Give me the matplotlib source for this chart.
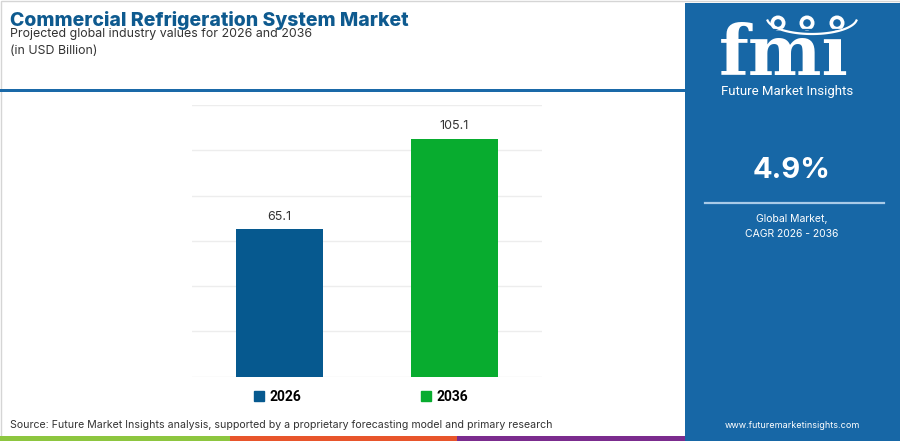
import matplotlib
matplotlib.use('Agg')
import matplotlib.pyplot as plt
import matplotlib.patches as mpatches
import numpy as np

# chart data
years = ['2026', '2036']
values = [65.1, 105.1]
bar_colors = ['#06598F', '#08AC2F']
cagr = '4.9%'

title = 'Commercial Refrigeration System Market'
subtitle = 'Projected global industry values for 2026 and 2036'
unit = '(in USD Billion)'
source = 'Source: Future Market Insights analysis, supported by a proprietary forecasting model and primary research'

W, H = 900, 441
fig = plt.figure(figsize=(W / 100, H / 100), dpi=100)
fig.patch.set_facecolor('white')

# background layer in pixel coordinates
bg = fig.add_axes([0, 0, 1, 1])
bg.set_xlim(0, W)
bg.set_ylim(H, 0)
bg.axis('off')

panel_blue = '#1767A6'
# outer light border
bg.add_patch(mpatches.Rectangle((0.5, 0.5), W - 1, H - 1, fill=False, ec='#D5D5D5', lw=1))
# header underline
bg.add_patch(mpatches.Rectangle((0, 88.5), 686, 3.5, color='#1A69A8', lw=0))
# bottom colour strip
strip_cols = ['#8DC63F', '#E8552B', '#7B2C8E']
strip_x = [0, 230, 457, 686]
for i in range(3):
    bg.add_patch(mpatches.Rectangle((strip_x[i], 435.5), strip_x[i + 1] - strip_x[i], 5, color=strip_cols[i], lw=0))
# right panel
bg.add_patch(mpatches.Rectangle((685, 3), W - 685, H - 3, color=panel_blue, lw=0))

# logo (striped letters + three globes on an arc)
bg.text(784, 75, 'fm\u0131', color='white', fontsize=50, fontweight='bold', family='DejaVu Serif',
        ha='center', va='baseline')
for yy in np.arange(29, 77, 3.4):
    bg.plot([714, 856], [yy, yy], color=panel_blue, lw=0.9)
t = np.linspace(0.05, 0.95, 60) * np.pi
bg.plot(812 - 45 * np.cos(t), 18 + 16 * np.sin(t), color='white', lw=1.6)
for cx in [778, 807, 837]:
    bg.add_patch(mpatches.Circle((cx, 23), 7.5, color='white', lw=0))
    bg.add_patch(mpatches.Circle((cx, 23), 3.8, color=panel_blue, lw=0))
bg.text(787, 91, 'Future Market Insights', color='white', fontsize=9.5, family='Roboto',
        ha='center', va='center')

bg.text(792, 171, cagr, color='white', fontsize=21, fontweight='bold', family='Inter',
        ha='center', va='center')
bg.plot([705, 884], [203, 203], color='#A9CBE8', lw=1.6)
bg.text(792, 219, 'Global Market,', color='white', fontsize=7.5, family='Inter', ha='center', va='center')
bg.text(792, 234, 'CAGR 2026 - 2036', color='white', fontsize=7.5, family='Inter', ha='center', va='center')
bg.text(792, 425, 'www.futuremarketinsights.com', color='white', fontsize=6.5, family='Inter',
        ha='center', va='center')

# header texts
bg.text(10, 20, title, color='#0E5A8F', fontsize=14, fontweight='heavy', family='Inter',
        ha='left', va='center')
bg.text(10, 34, subtitle, color='#333333', fontsize=8.9, family='Inter', ha='left', va='center')
bg.text(10, 51, unit, color='#333333', fontsize=8.9, family='Inter', ha='left', va='center')
bg.text(10, 425, source, color='#333333', fontsize=7.6, family='Inter', ha='left', va='center')

# bar chart
ax = fig.add_axes([192 / W, 1 - 376.7 / H, (542 - 192) / W, (376.7 - 105) / H])
ax.patch.set_alpha(0)
x = np.arange(len(years))
bars = ax.bar(x, values, width=0.5, color=bar_colors, zorder=3)
ax.set_xlim(-0.5, 1.5)
ax.set_ylim(0, 120)
ax.set_yticks(np.arange(0, 121, 20))
ax.grid(axis='y', color='#EDEDED', lw=1, zorder=0)
ax.tick_params(left=False, bottom=False, labelleft=False, labelbottom=False)
for s in ax.spines.values():
    s.set_visible(False)
for b, v in zip(bars, values):
    ax.annotate(f'{v}', (b.get_x() + b.get_width() / 2, v), xytext=(0, 4.5), textcoords='offset points',
                ha='center', va='bottom', fontsize=9, color='#333333', family='Inter')

handles = [mpatches.Patch(color=c, label=y) for c, y in zip(bar_colors, years)]
leg = fig.legend(handles=handles, loc='center', bbox_to_anchor=(361 / W, 1 - 397 / H), ncol=2,
                 frameon=False, handlelength=0.75, handleheight=0.75, handletextpad=0.4,
                 columnspacing=8.6, prop={'family': 'Roboto', 'weight': 'bold', 'size': 10})

fig.savefig('out.png', dpi=100)
